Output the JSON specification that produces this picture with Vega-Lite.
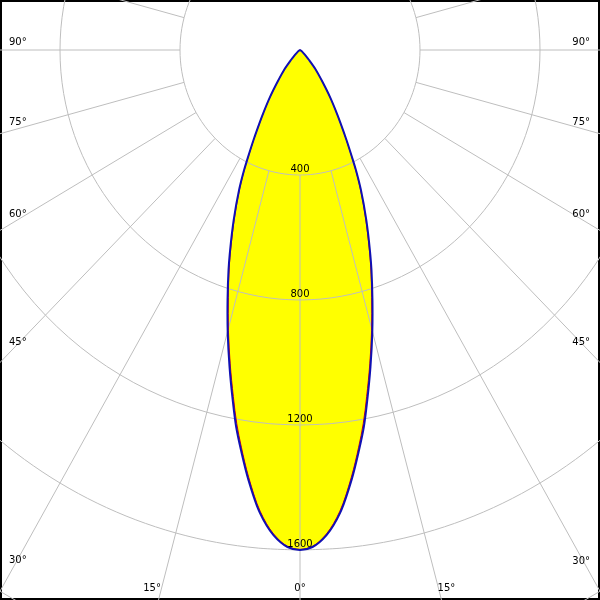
{
  "$schema": "https://vega.github.io/schema/vega-lite/v6.json",
  "width": 600,
  "height": 600,
  "autosize": {"type": "fit", "contains": "padding"},
  "padding": 0,
  "background": "white",
  "config": {"view": {"stroke": "black", "strokeWidth": 4}},
  "datasets": {
    "curve": [
      {"s": "b", "a": -90, "I": 0}, {"s": "b", "a": -70, "I": 1}, {"s": "b", "a": -60, "I": 3}, {"s": "b", "a": -55, "I": 6},
      {"s": "b", "a": -50, "I": 14}, {"s": "b", "a": -46, "I": 28}, {"s": "b", "a": -43.2, "I": 44}, {"s": "b", "a": -39.8, "I": 83},
      {"s": "b", "a": -36.75, "I": 120}, {"s": "b", "a": -33.6, "I": 181}, {"s": "b", "a": -31.25, "I": 236}, {"s": "b", "a": -30.02, "I": 270},
      {"s": "b", "a": -28.29, "I": 327}, {"s": "b", "a": -26.6, "I": 394}, {"s": "b", "a": -25.88, "I": 427}, {"s": "b", "a": -24.38, "I": 492},
      {"s": "b", "a": -22.11, "I": 587}, {"s": "b", "a": -20, "I": 681}, {"s": "b", "a": -18.7, "I": 743}, {"s": "b", "a": -16.79, "I": 836},
      {"s": "b", "a": -14.9, "I": 937}, {"s": "b", "a": -13.04, "I": 1041}, {"s": "b", "a": -11.33, "I": 1142}, {"s": "b", "a": -10, "I": 1225},
      {"s": "b", "a": -8.74, "I": 1295}, {"s": "b", "a": -7.11, "I": 1387}, {"s": "b", "a": -5.14, "I": 1488}, {"s": "b", "a": -3.26, "I": 1555},
      {"s": "b", "a": -1.5, "I": 1591}, {"s": "b", "a": 0, "I": 1600},
      {"s": "b", "a": 1.5, "I": 1591}, {"s": "b", "a": 3.26, "I": 1555}, {"s": "b", "a": 5.14, "I": 1488}, {"s": "b", "a": 7.11, "I": 1387},
      {"s": "b", "a": 8.74, "I": 1295}, {"s": "b", "a": 10, "I": 1225}, {"s": "b", "a": 11.33, "I": 1142}, {"s": "b", "a": 13.04, "I": 1041},
      {"s": "b", "a": 14.9, "I": 937}, {"s": "b", "a": 16.79, "I": 836}, {"s": "b", "a": 18.7, "I": 743}, {"s": "b", "a": 20, "I": 681},
      {"s": "b", "a": 22.11, "I": 587}, {"s": "b", "a": 24.38, "I": 492}, {"s": "b", "a": 25.88, "I": 427}, {"s": "b", "a": 26.6, "I": 394},
      {"s": "b", "a": 28.29, "I": 327}, {"s": "b", "a": 30.02, "I": 270}, {"s": "b", "a": 31.25, "I": 236}, {"s": "b", "a": 33.6, "I": 181},
      {"s": "b", "a": 36.75, "I": 120}, {"s": "b", "a": 39.8, "I": 83}, {"s": "b", "a": 43.2, "I": 44}, {"s": "b", "a": 46, "I": 28},
      {"s": "b", "a": 50, "I": 14}, {"s": "b", "a": 55, "I": 6}, {"s": "b", "a": 60, "I": 3}, {"s": "b", "a": 70, "I": 1}, {"s": "b", "a": 90, "I": 0},
      {"s": "r", "a": -90, "I": 0}, {"s": "r", "a": -70, "I": 1}, {"s": "r", "a": -60, "I": 3}, {"s": "r", "a": -55, "I": 6},
      {"s": "r", "a": -50, "I": 14}, {"s": "r", "a": -46, "I": 28}, {"s": "r", "a": -43.2, "I": 44}, {"s": "r", "a": -39.8, "I": 82},
      {"s": "r", "a": -36.75, "I": 119}, {"s": "r", "a": -33.6, "I": 179}, {"s": "r", "a": -31.25, "I": 234}, {"s": "r", "a": -30.02, "I": 267},
      {"s": "r", "a": -28.29, "I": 324}, {"s": "r", "a": -26.6, "I": 390}, {"s": "r", "a": -25.88, "I": 423}, {"s": "r", "a": -24.38, "I": 487},
      {"s": "r", "a": -22.11, "I": 581}, {"s": "r", "a": -20, "I": 674}, {"s": "r", "a": -18.7, "I": 736}, {"s": "r", "a": -16.79, "I": 827},
      {"s": "r", "a": -14.9, "I": 928}, {"s": "r", "a": -13.04, "I": 1031}, {"s": "r", "a": -11.33, "I": 1131}, {"s": "r", "a": -10, "I": 1214},
      {"s": "r", "a": -8.74, "I": 1286}, {"s": "r", "a": -7.11, "I": 1379}, {"s": "r", "a": -5.14, "I": 1482}, {"s": "r", "a": -3.26, "I": 1551},
      {"s": "r", "a": -1.5, "I": 1589}, {"s": "r", "a": 0, "I": 1598},
      {"s": "r", "a": 1.5, "I": 1589}, {"s": "r", "a": 3.26, "I": 1551}, {"s": "r", "a": 5.14, "I": 1482}, {"s": "r", "a": 7.11, "I": 1379},
      {"s": "r", "a": 8.74, "I": 1286}, {"s": "r", "a": 10, "I": 1214}, {"s": "r", "a": 11.33, "I": 1131}, {"s": "r", "a": 13.04, "I": 1031},
      {"s": "r", "a": 14.9, "I": 928}, {"s": "r", "a": 16.79, "I": 827}, {"s": "r", "a": 18.7, "I": 736}, {"s": "r", "a": 20, "I": 674},
      {"s": "r", "a": 22.11, "I": 581}, {"s": "r", "a": 24.38, "I": 487}, {"s": "r", "a": 25.88, "I": 423}, {"s": "r", "a": 26.6, "I": 390},
      {"s": "r", "a": 28.29, "I": 324}, {"s": "r", "a": 30.02, "I": 267}, {"s": "r", "a": 31.25, "I": 234}, {"s": "r", "a": 33.6, "I": 179},
      {"s": "r", "a": 36.75, "I": 119}, {"s": "r", "a": 39.8, "I": 82}, {"s": "r", "a": 43.2, "I": 44}, {"s": "r", "a": 46, "I": 28},
      {"s": "r", "a": 50, "I": 14}, {"s": "r", "a": 55, "I": 6}, {"s": "r", "a": 60, "I": 3}, {"s": "r", "a": 70, "I": 1}, {"s": "r", "a": 90, "I": 0}
    ],
    "circles": [
      {"r": 400, "a": [0,5,10,15,20,25,30,35,40,45,50,55,60,65,70,75,80,85,90,95,100,105,110,115,120,125,130,135,140,145,150,155,160,165,170,175,180,185,190,195,200,205,210,215,220,225,230,235,240,245,250,255,260,265,270,275,280,285,290,295,300,305,310,315,320,325,330,335,340,345,350,355,360]},
      {"r": 800, "a": [0,5,10,15,20,25,30,35,40,45,50,55,60,65,70,75,80,85,90,95,100,105,110,115,120,125,130,135,140,145,150,155,160,165,170,175,180,185,190,195,200,205,210,215,220,225,230,235,240,245,250,255,260,265,270,275,280,285,290,295,300,305,310,315,320,325,330,335,340,345,350,355,360]},
      {"r": 1200, "a": [0,5,10,15,20,25,30,35,40,45,50,55,60,65,70,75,80,85,90,95,100,105,110,115,120,125,130,135,140,145,150,155,160,165,170,175,180,185,190,195,200,205,210,215,220,225,230,235,240,245,250,255,260,265,270,275,280,285,290,295,300,305,310,315,320,325,330,335,340,345,350,355,360]},
      {"r": 1600, "a": [0,5,10,15,20,25,30,35,40,45,50,55,60,65,70,75,80,85,90,95,100,105,110,115,120,125,130,135,140,145,150,155,160,165,170,175,180,185,190,195,200,205,210,215,220,225,230,235,240,245,250,255,260,265,270,275,280,285,290,295,300,305,310,315,320,325,330,335,340,345,350,355,360]},
      {"r": 2000, "a": [0,5,10,15,20,25,30,35,40,45,50,55,60,65,70,75,80,85,90,95,100,105,110,115,120,125,130,135,140,145,150,155,160,165,170,175,180,185,190,195,200,205,210,215,220,225,230,235,240,245,250,255,260,265,270,275,280,285,290,295,300,305,310,315,320,325,330,335,340,345,350,355,360]}
    ],
    "spokes": [
      {"a": 0}, {"a": 15}, {"a": 30}, {"a": 45}, {"a": 60}, {"a": 75}, {"a": 90}, {"a": 105}, {"a": 120}, {"a": 135}, {"a": 150}, {"a": 165},
      {"a": 180}, {"a": 195}, {"a": 210}, {"a": 225}, {"a": 240}, {"a": 255}, {"a": 270}, {"a": 285}, {"a": 300}, {"a": 315}, {"a": 330}, {"a": 345}
    ],
    "ilabels": [
      {"v": 400, "t": "400"}, {"v": 800, "t": "800"}, {"v": 1200, "t": "1200"}, {"v": 1600, "t": "1600"}
    ],
    "leftlabels": [
      {"t": "90°", "tx": -970, "ty": 25.6}, {"t": "75°", "tx": -970, "ty": -230}, {"t": "60°", "tx": -970, "ty": -525},
      {"t": "45°", "tx": -970, "ty": -934}, {"t": "30°", "tx": -970, "ty": -1632}
    ],
    "rightlabels": [
      {"t": "90°", "tx": 967, "ty": 25.6}, {"t": "75°", "tx": 967, "ty": -230}, {"t": "60°", "tx": 967, "ty": -525},
      {"t": "45°", "tx": 967, "ty": -934}, {"t": "30°", "tx": 967, "ty": -1635}
    ],
    "bottomlabels": [
      {"t": "15°", "tx": -493, "ty": -1721}, {"t": "0°", "tx": 0, "ty": -1721}, {"t": "15°", "tx": 488, "ty": -1721}
    ]
  },
  "layer": [
    {
      "data": {"name": "curve"},
      "transform": [
        {"filter": "datum.s == 'b'"},
        {"calculate": "datum.I * sin(datum.a * PI / 180)", "as": "x"},
        {"calculate": "-datum.I * cos(datum.a * PI / 180)", "as": "y"}
      ],
      "mark": {"type": "line", "fill": "#FFFF00", "strokeWidth": 0, "strokeOpacity": 0, "interpolate": "catmull-rom"},
      "encoding": {
        "x": {"field": "x", "type": "quantitative", "scale": {"domain": [-1000, 1000], "nice": false, "zero": false}, "axis": null},
        "y": {"field": "y", "type": "quantitative", "scale": {"domain": [-1760, 160], "nice": false, "zero": false}, "axis": null},
        "order": {"field": "a", "type": "quantitative"}
      }
    },
    {
      "data": {"name": "circles"},
      "transform": [
        {"flatten": ["a"]},
        {"calculate": "datum.r * sin(datum.a * PI / 180)", "as": "x"},
        {"calculate": "-datum.r * cos(datum.a * PI / 180)", "as": "y"}
      ],
      "mark": {"type": "line", "stroke": "#BEBEBE", "strokeWidth": 1, "clip": true, "blend": "multiply", "interpolate": "catmull-rom"},
      "encoding": {
        "x": {"field": "x", "type": "quantitative", "axis": null},
        "y": {"field": "y", "type": "quantitative", "axis": null},
        "detail": {"field": "r", "type": "nominal"},
        "order": {"field": "a", "type": "quantitative"}
      }
    },
    {
      "data": {"name": "spokes"},
      "transform": [
        {"calculate": "400 * sin(datum.a * PI / 180)", "as": "x1"},
        {"calculate": "-400 * cos(datum.a * PI / 180)", "as": "y1"},
        {"calculate": "3000 * sin(datum.a * PI / 180)", "as": "x2"},
        {"calculate": "-3000 * cos(datum.a * PI / 180)", "as": "y2"}
      ],
      "mark": {"type": "rule", "stroke": "#BEBEBE", "strokeWidth": 1, "clip": true, "blend": "multiply"},
      "encoding": {
        "x": {"field": "x1", "type": "quantitative", "axis": null},
        "y": {"field": "y1", "type": "quantitative", "axis": null},
        "x2": {"field": "x2"},
        "y2": {"field": "y2"}
      }
    },
    {
      "data": {"name": "curve"},
      "transform": [
        {"filter": "datum.s == 'r'"},
        {"calculate": "datum.I * sin(datum.a * PI / 180)", "as": "x"},
        {"calculate": "-datum.I * cos(datum.a * PI / 180)", "as": "y"}
      ],
      "mark": {"type": "line", "stroke": "#E00000", "strokeWidth": 1, "interpolate": "catmull-rom"},
      "encoding": {
        "x": {"field": "x", "type": "quantitative", "axis": null},
        "y": {"field": "y", "type": "quantitative", "axis": null},
        "order": {"field": "a", "type": "quantitative"}
      }
    },
    {
      "data": {"name": "curve"},
      "transform": [
        {"filter": "datum.s == 'b'"},
        {"calculate": "datum.I * sin(datum.a * PI / 180)", "as": "x"},
        {"calculate": "-datum.I * cos(datum.a * PI / 180)", "as": "y"}
      ],
      "mark": {"type": "line", "stroke": "#1010B4", "strokeWidth": 2, "interpolate": "catmull-rom"},
      "encoding": {
        "x": {"field": "x", "type": "quantitative", "axis": null},
        "y": {"field": "y", "type": "quantitative", "axis": null},
        "order": {"field": "a", "type": "quantitative"}
      }
    },
    {
      "data": {"name": "ilabels"},
      "transform": [
        {"calculate": "0", "as": "x"},
        {"calculate": "-datum.v", "as": "y"}
      ],
      "mark": {"type": "text", "font": "DejaVu Sans", "fontSize": 10, "color": "black", "align": "center", "baseline": "middle", "dy": -6},
      "encoding": {
        "x": {"field": "x", "type": "quantitative", "axis": null},
        "y": {"field": "y", "type": "quantitative", "axis": null},
        "text": {"field": "t"}
      }
    },
    {
      "data": {"name": "leftlabels"},
      "mark": {"type": "text", "font": "DejaVu Sans", "fontSize": 10, "color": "black", "align": "left", "baseline": "middle"},
      "encoding": {
        "x": {"field": "tx", "type": "quantitative", "axis": null},
        "y": {"field": "ty", "type": "quantitative", "axis": null},
        "text": {"field": "t"}
      }
    },
    {
      "data": {"name": "rightlabels"},
      "mark": {"type": "text", "font": "DejaVu Sans", "fontSize": 10, "color": "black", "align": "right", "baseline": "middle"},
      "encoding": {
        "x": {"field": "tx", "type": "quantitative", "axis": null},
        "y": {"field": "ty", "type": "quantitative", "axis": null},
        "text": {"field": "t"}
      }
    },
    {
      "data": {"name": "bottomlabels"},
      "mark": {"type": "text", "font": "DejaVu Sans", "fontSize": 10, "color": "black", "align": "center", "baseline": "middle"},
      "encoding": {
        "x": {"field": "tx", "type": "quantitative", "axis": null},
        "y": {"field": "ty", "type": "quantitative", "axis": null},
        "text": {"field": "t"}
      }
    }
  ]
}
